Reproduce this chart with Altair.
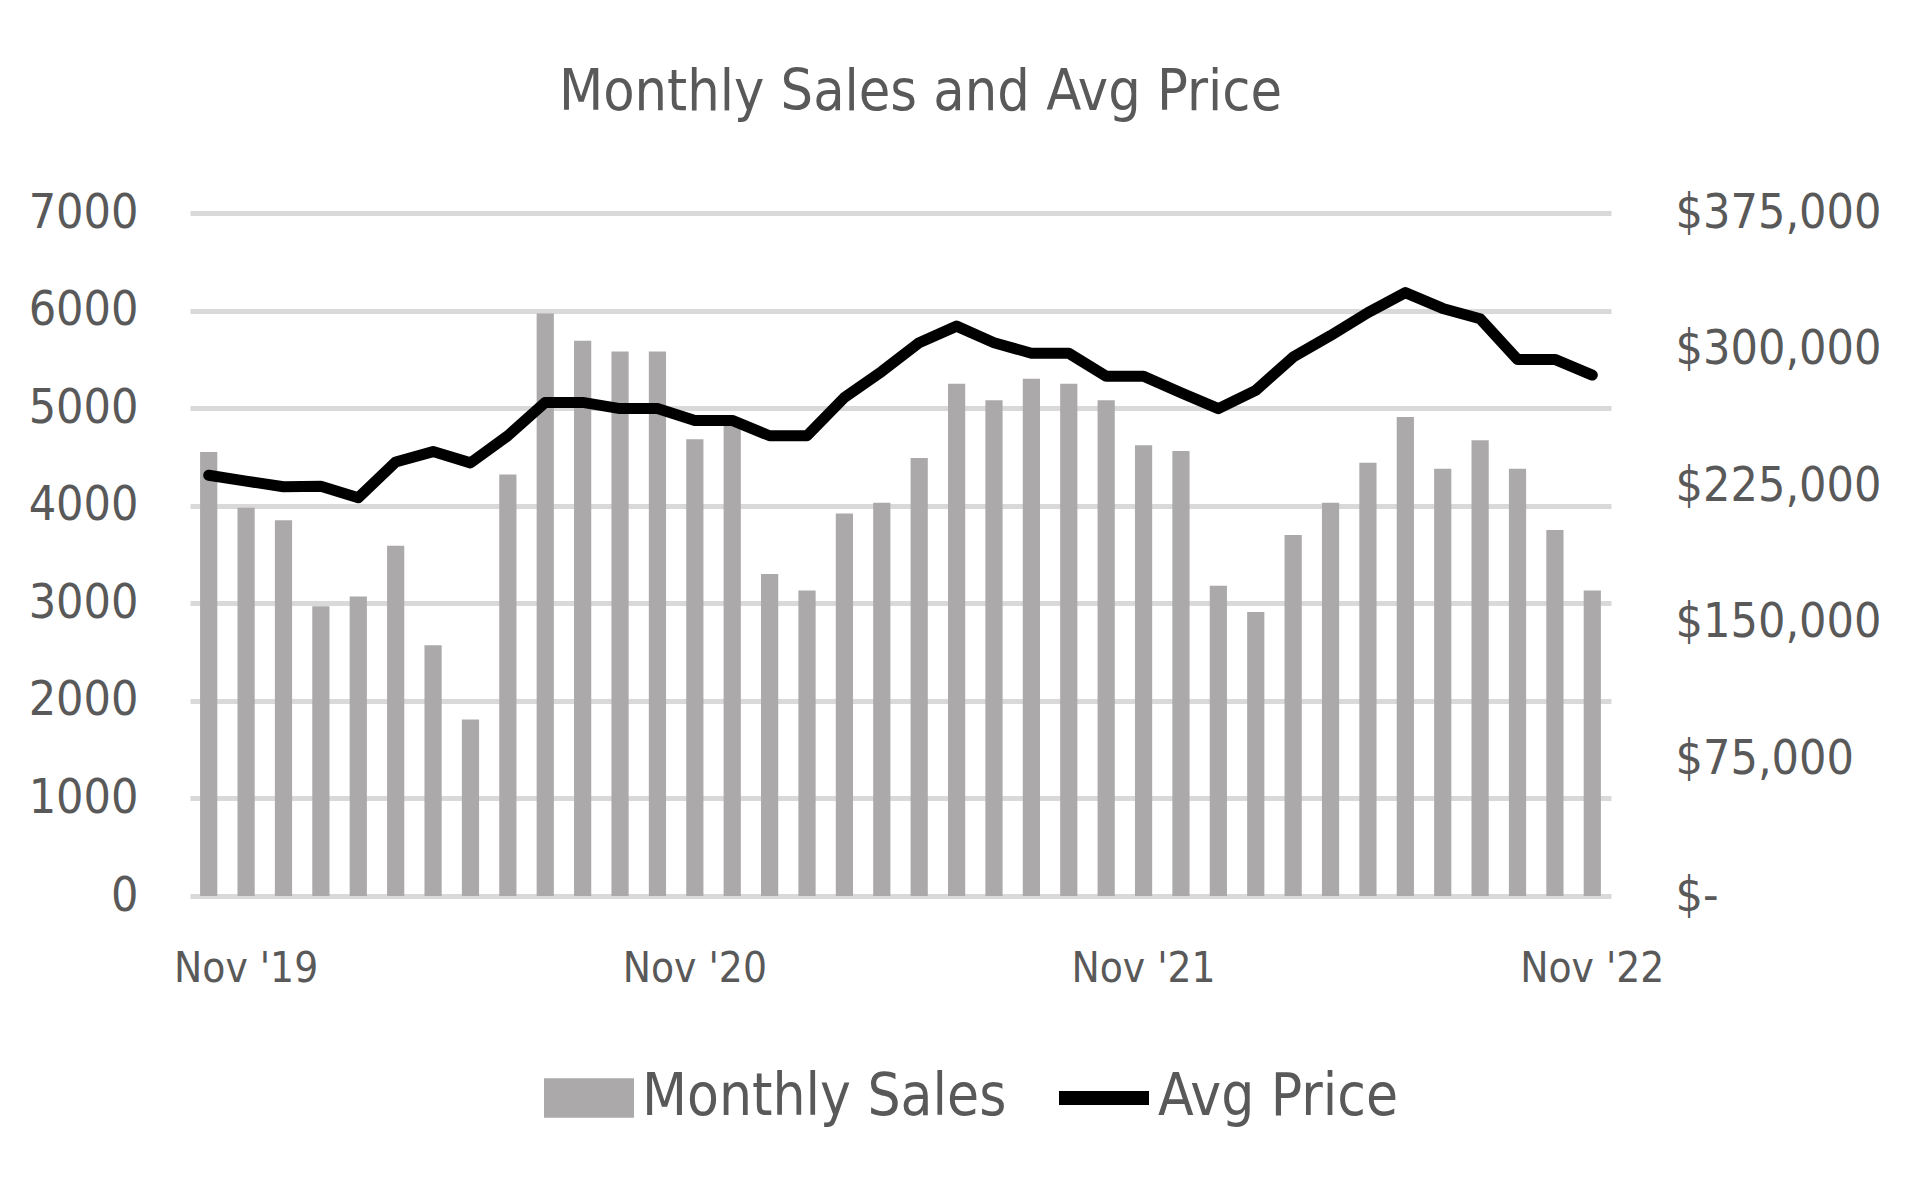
import altair as alt
import pandas as pd

months = ["Oct '19", "Nov '19", "Dec '19", "Jan '20", "Feb '20", "Mar '20", "Apr '20", "May '20",
          "Jun '20", "Jul '20", "Aug '20", "Sep '20", "Oct '20", "Nov '20", "Dec '20", "Jan '21",
          "Feb '21", "Mar '21", "Apr '21", "May '21", "Jun '21", "Jul '21", "Aug '21", "Sep '21",
          "Oct '21", "Nov '21", "Dec '21", "Jan '22", "Feb '22", "Mar '22", "Apr '22", "May '22",
          "Jun '22", "Jul '22", "Aug '22", "Sep '22", "Oct '22", "Nov '22"]

sales = [4550, 3980, 3850, 2970, 3070, 3590, 2570, 1810, 4320, 5970,
         5690, 5580, 5580, 4680, 4820, 3300, 3130, 3920, 4030, 4490,
         5250, 5080, 5300, 5250, 5080, 4620, 4560, 3180, 2910, 3700,
         4030, 4440, 4910, 4380, 4670, 4380, 3750, 3130]

price = [231000, 227800, 224700, 225000, 218700, 238300, 244000, 237800, 252700, 271000,
         271000, 267600, 267600, 261100, 261100, 252700, 252700, 273700, 288000, 303800,
         312900, 303800, 298000, 298000, 285400, 285400, 276300, 267600, 277600, 295900,
         307700, 320300, 331300, 322600, 316900, 294600, 294600, 286000]

tick_months = ["Nov '19", "Nov '20", "Nov '21", "Nov '22"]
left_ticks = [0, 1000, 2000, 3000, 4000, 5000, 6000, 7000]
right_ticks = [0, 75000, 150000, 225000, 300000, 375000]

BAR = "#ABA9A9"
TXT = "#595959"
GRID = "#D9D9D9"
FONT = "Liberation Sans Narrow, DejaVu Sans Condensed, sans-serif"

df = pd.DataFrame({"month": months, "sales": sales, "price": price})

common_legend = dict(
    title=None,
    orient="none",
    direction="horizontal",
    labelFont=FONT,
    labelFontSize=58,
    labelColor=TXT,
    labelLimit=0,
    symbolSize=8100,
)

x_enc = alt.X(
    "month:N",
    sort=months,
    scale=alt.Scale(paddingInner=0.54),
    axis=alt.Axis(
        title=None,
        values=tick_months,
        labelAngle=0,
        labelFont=FONT,
        labelFontSize=42,
        labelColor=TXT,
        labelPadding=52,
        labelLimit=0,
        ticks=False,
        domain=False,
        grid=False,
    ),
)

bars = (
    alt.Chart(df)
    .transform_calculate(series="'Monthly Sales'")
    .mark_bar()
    .encode(
        x=x_enc,
        y=alt.Y(
            "sales:Q",
            scale=alt.Scale(domain=[0, 7000], nice=False),
            axis=alt.Axis(
                title=None,
                values=left_ticks,
                format="d",
                labelFont=FONT,
                labelFontSize=48,
                labelColor=TXT,
                labelPadding=52,
                labelLimit=0,
                ticks=False,
                domain=False,
                grid=True,
                gridColor=GRID,
                gridWidth=5,
            ),
        ),
        fill=alt.Fill(
            "series:N",
            scale=alt.Scale(domain=["Monthly Sales"], range=[BAR]),
            legend=alt.Legend(
                legendX=354,
                legendY=840,
                labelOffset=8,
                symbolType="M-1,-0.44H1V0.44H-1Z",
                symbolStrokeWidth=0,
                symbolOpacity=1,
                **common_legend,
            ),
        ),
    )
)

line = (
    alt.Chart(df)
    .transform_calculate(lseries="'Avg Price'")
    .mark_line(strokeWidth=11, strokeJoin="round", strokeCap="round")
    .encode(
        x=x_enc,
        y=alt.Y(
            "price:Q",
            scale=alt.Scale(domain=[0, 375000], nice=False),
            axis=alt.Axis(
                title=None,
                orient="right",
                values=right_ticks,
                labelExpr="datum.value == 0 ? '$-' : '$' + format(datum.value, ',')",
                labelFont=FONT,
                labelFontSize=48,
                labelColor=TXT,
                labelPadding=64,
                labelLimit=0,
                ticks=False,
                domain=False,
                grid=False,
            ),
        ),
        stroke=alt.Stroke(
            "lseries:N",
            scale=alt.Scale(domain=["Avg Price"], range=["#000000"]),
            legend=alt.Legend(
                legendX=862,
                legendY=833,
                labelOffset=2,
                symbolType="stroke",
                symbolStrokeWidth=14,
                symbolOpacity=1,
                **common_legend,
            ),
        ),
    )
)

chart = (
    alt.layer(bars, line)
    .resolve_scale(y="independent")
    .properties(
        width=1421,
        height=683,
        background="white",
        padding={"left": 20, "top": 56, "right": 10, "bottom": 10},
        title=alt.TitleParams(
            "Monthly Sales and Avg Price",
            font=FONT,
            fontSize=57,
            fontWeight="normal",
            color=TXT,
            offset=67,
            dx=20,
        ),
    )
    .configure_view(strokeWidth=0, stroke="transparent")
)

chart.save("out.html", embed_options={"renderer": "svg", "actions": False})
